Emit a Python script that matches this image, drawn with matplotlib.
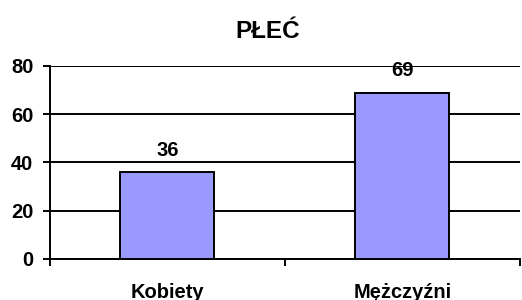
import matplotlib.pyplot as plt

categories = ['Kobiety', 'Mężczyźni']
values = [36, 69]
y_ticks = [0, 20, 40, 60, 80]
title = 'PŁEĆ'

plt.rcParams['font.family'] = ['Liberation Sans', 'DejaVu Sans']
plt.rcParams['font.weight'] = 'bold'

fig = plt.figure(figsize=(5.22, 3.0), dpi=100)
ax = fig.add_axes([0.0958, 0.137, 0.9, 0.643])

x = list(range(len(categories)))
bars = ax.bar(x, values, width=0.40, color='#9999FF', edgecolor='black',
              linewidth=1.4, zorder=3)

for b, v in zip(bars, values):
    ax.annotate(str(v), (b.get_x() + b.get_width() / 2, v), xytext=(0, 9),
                textcoords='offset points', ha='center', va='bottom',
                fontsize=14.5, fontweight='bold', zorder=4)

ax.set_xlim(-0.5, len(categories) - 0.5)
ax.set_ylim(0, 80)
ax.set_yticks(y_ticks)
ax.set_xticks(x)
ax.set_xticklabels(categories, fontsize=14.5, fontweight='bold')
ax.set_xticks([i - 0.5 for i in range(len(categories) + 1)], minor=True)
ax.tick_params(axis='x', which='major', length=0, pad=17)
ax.tick_params(axis='x', which='minor', length=5, width=1.4, direction='out')
ax.tick_params(axis='y', length=5, width=1.4, labelsize=14.5, pad=7)
for lbl in ax.get_yticklabels():
    lbl.set_fontweight('bold')

ax.yaxis.grid(True, color='black', linewidth=1.4, zorder=1)
ax.set_axisbelow(True)
for s in ['top', 'right']:
    ax.spines[s].set_visible(False)
for s in ['left', 'bottom']:
    ax.spines[s].set_linewidth(1.4)

fig.text(0.512, 0.895, title, ha='center', va='center', fontsize=17.5,
         fontweight='bold')

fig.savefig('out.png', dpi=100)
